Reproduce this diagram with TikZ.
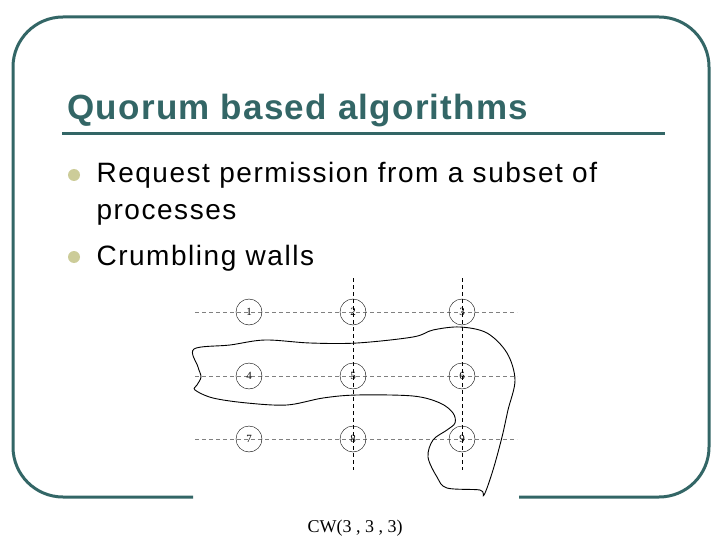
\documentclass[tikz,border=0pt]{standalone}
\usepackage{fontspec}
\setmainfont{Liberation Serif}
\setsansfont{Liberation Sans}
\newfontfamily\headfont[LetterSpace=3.6]{Liberation Sans}
\newfontfamily\bodyfont[LetterSpace=5.5]{Liberation Sans}
\definecolor{slateteal}{RGB}{51,102,102}
\definecolor{bulletbeige}{RGB}{204,204,153}

\begin{document}
\begin{tikzpicture}[x=1pt,y=-1pt,
		rowline/.style={gray, line width=0.6pt, dash pattern=on 4pt off 3pt},
		colline/.style={black, line width=0.6pt, dash pattern=on 4pt off 3pt},
		site/.style={draw, circle, line width=0.4pt, minimum size=26pt, inner sep=0pt, font=\fontsize{11}{11}\selectfont},
		bulletline/.style={anchor=base west, font=\bodyfont\fontsize{28}{28}\selectfont}]
		\useasboundingbox (0,0) rectangle (720,540);
		% slide frame, broken where the figure sits
		\draw[slateteal, line width=3pt, rounded corners=50pt] (193,497) -- (13,497) -- (13,17) -- (709,17) -- (709,497) -- (519,497);
		\node[anchor=base west, text=slateteal, font=\headfont\bfseries\fontsize{35}{35}\selectfont] (title) at (64,120) {Quorum based algorithms};
		\draw[slateteal, line width=3pt] (62,134) -- (665,134);
		\fill[bulletbeige] (74,175) circle(6);
		\fill[bulletbeige] (74,257) circle(6);
		\node[bulletline] (req) at (93,183) {Request permission from a subset of};
		\node[bulletline] (proc) at (93,220) {processes};
		\node[bulletline] (crumb) at (93,265) {Crumbling walls};
		% grid of processes
		\draw[rowline] (195,312) -- (517,312);
		\draw[rowline] (195,376) -- (517,376);
		\draw[rowline] (195,439) -- (517,439);
		\draw[colline] (353,278) -- (353,470);
		\draw[colline] (462,278) -- (462,470);
		\node[site] (p1) at (249,312) {1};
		\node[site] (p2) at (353,312) {2};
		\node[site] (p3) at (462,312) {3};
		\node[site] (p4) at (249,376) {4};
		\node[site] (p5) at (353,376) {5};
		\node[site] (p6) at (462,376) {6};
		\node[site] (p7) at (249,439) {7};
		\node[site] (p8) at (353,439) {8};
		\node[site] (p9) at (462,439) {9};
		% the quorum wall
		\draw[line width=0.9pt] plot[smooth cycle, tension=0.55] coordinates {
			(194,349) (230,345) (265,340) (310,343) (357,343) (413,337) (433,330)
			(460,327) (487,333) (507,353) (515,380) (508,410) (502,437) (493,470)
			(484,495) (480,490) (447,488) (437,477) (428,457) (433,440) (447,430)
			(455,423) (453,413) (440,403) (413,396) (357,395) (323,398) (287,405)
			(247,403) (213,398) (195,390) (197,385) (201,377) (198,367)};
		\node[font=\fontsize{18}{18}\selectfont] (cw) at (355,528) {CW(3 , 3 , 3)};
	\end{tikzpicture}
\end{document}
